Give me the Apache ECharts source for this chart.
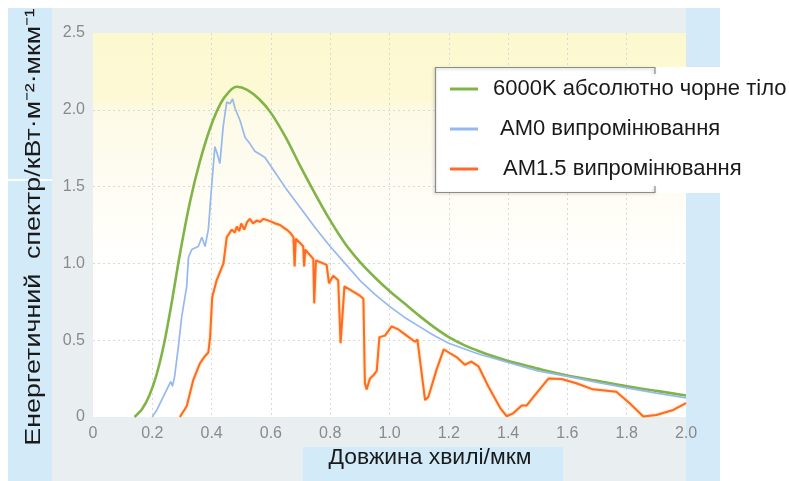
<!DOCTYPE html>
<html>
<head>
<meta charset="utf-8">
<script src="https://cdn.jsdelivr.net/npm/echarts@6/dist/echarts.min.js"></script>
<style>
  html, body { margin: 0; padding: 0; background: #ffffff; }
  #chart { width: 789px; height: 481px; }
</style>
</head>
<body>
<div id="chart"></div>
<script>
// Spectral irradiance curves, wavelength in µm, values in kW·m⁻²·µm⁻¹

// 6000K blackbody curve
const bodyX = [0.14, 0.165, 0.19, 0.215, 0.24, 0.265, 0.293, 0.327, 0.36, 0.395, 0.43, 0.46, 0.485, 0.52, 0.56, 0.60, 0.65, 0.70, 0.75, 0.80, 0.85, 0.90, 0.95, 1.00, 1.05, 1.10, 1.15, 1.20, 1.25, 1.30, 1.35, 1.40, 1.45, 1.50, 1.60, 1.70, 1.80, 1.90, 2.00];
const bodyY = [0, 0.05, 0.14, 0.28, 0.48, 0.74, 1.06, 1.40, 1.66, 1.88, 2.04, 2.12, 2.15, 2.13, 2.07, 1.98, 1.82, 1.63, 1.45, 1.28, 1.13, 1.01, 0.91, 0.82, 0.74, 0.66, 0.585, 0.52, 0.47, 0.43, 0.395, 0.365, 0.34, 0.315, 0.27, 0.235, 0.20, 0.17, 0.14];

// AM0 (extraterrestrial) spectrum
const am0X = [0.20, 0.215, 0.248, 0.262, 0.268, 0.275, 0.288, 0.299, 0.316, 0.322, 0.333, 0.355, 0.367, 0.378, 0.389, 0.400, 0.411, 0.418, 0.428, 0.439, 0.451, 0.462, 0.471, 0.479, 0.496, 0.513, 0.529, 0.546, 0.563, 0.58, 0.608, 0.65, 0.70, 0.75, 0.80, 0.85, 0.90, 0.95, 1.00, 1.05, 1.10, 1.15, 1.20, 1.30, 1.40, 1.50, 1.60, 1.70, 1.80, 1.90, 2.00];
const am0Y = [0, 0.045, 0.175, 0.23, 0.20, 0.26, 0.46, 0.65, 0.85, 1.04, 1.09, 1.11, 1.17, 1.11, 1.22, 1.50, 1.76, 1.72, 1.65, 1.89, 2.05, 2.04, 2.07, 2.01, 1.93, 1.82, 1.78, 1.73, 1.71, 1.69, 1.61, 1.49, 1.36, 1.23, 1.11, 1.00, 0.89, 0.80, 0.72, 0.65, 0.59, 0.53, 0.48, 0.41, 0.355, 0.30, 0.265, 0.225, 0.19, 0.155, 0.125];

// AM1.5 (ground level) spectrum
const am15X = [0.293, 0.316, 0.338, 0.361, 0.375, 0.389, 0.395, 0.402, 0.417, 0.44, 0.451, 0.468, 0.478, 0.485, 0.493, 0.50, 0.51, 0.52, 0.529, 0.54, 0.552, 0.563, 0.575, 0.59, 0.603, 0.615, 0.631, 0.645, 0.653, 0.665, 0.676, 0.680, 0.684, 0.700, 0.709, 0.712, 0.716, 0.743, 0.746, 0.752, 0.788, 0.796, 0.81, 0.827, 0.835, 0.848, 0.90, 0.912, 0.917, 0.923, 0.934, 0.945, 0.957, 0.966, 0.985, 1.007, 1.03, 1.058, 1.086, 1.094, 1.12, 1.131, 1.159, 1.183, 1.204, 1.226, 1.254, 1.276, 1.30, 1.333, 1.373, 1.395, 1.417, 1.446, 1.463, 1.485, 1.536, 1.58, 1.63, 1.686, 1.765, 1.81, 1.856, 1.90, 1.957, 2.00];
const am15Y = [0, 0.07, 0.24, 0.35, 0.39, 0.42, 0.52, 0.78, 0.89, 1.00, 1.17, 1.22, 1.20, 1.24, 1.21, 1.26, 1.22, 1.27, 1.29, 1.26, 1.28, 1.27, 1.29, 1.28, 1.27, 1.26, 1.25, 1.23, 1.22, 1.20, 1.17, 0.98, 1.16, 1.13, 1.11, 0.98, 1.09, 1.03, 0.74, 1.02, 0.99, 0.87, 0.92, 0.89, 0.48, 0.85, 0.79, 0.77, 0.22, 0.18, 0.25, 0.27, 0.30, 0.52, 0.53, 0.59, 0.57, 0.53, 0.49, 0.505, 0.11, 0.13, 0.31, 0.44, 0.415, 0.39, 0.34, 0.36, 0.33, 0.20, 0.06, 0.005, 0.024, 0.075, 0.075, 0.13, 0.25, 0.247, 0.22, 0.18, 0.165, 0.09, 0.003, 0.013, 0.046, 0.09];

// Series names and axis titles
const seriesNames = ['6000K абсолютно чорне тіло', 'АМ0 випромінювання', 'АМ1.5 випромінювання'];
const xTitle = 'Довжина хвилі/мкм';
const yTitle = 'Енергетичний  спектр/кВт·м⁻²·мкм⁻¹';

const pairs = (xs, ys) => xs.map((x, i) => [x, ys[i]]);
const tickFmt = v => (v === 0 ? '0' : v.toFixed(1));

const chart = echarts.init(document.getElementById('chart'), null, { renderer: 'canvas' });

chart.setOption({
  animation: false,
  backgroundColor: '#ffffff',
  textStyle: { fontFamily: '"Liberation Sans", Arial, sans-serif' },
  grid: {
    left: 93, right: 103, top: 33, bottom: 64,
    show: true,
    borderWidth: 0,
    backgroundColor: {
      type: 'linear', x: 0, y: 0, x2: 0, y2: 1,
      colorStops: [
        { offset: 0, color: '#fcf8ce' },
        { offset: 0.17, color: '#fdf9d6' },
        { offset: 0.21, color: '#fdfae6' },
        { offset: 0.36, color: '#fefcf1' },
        { offset: 0.52, color: '#fffef9' },
        { offset: 0.62, color: '#ffffff' },
        { offset: 1, color: '#ffffff' }
      ]
    }
  },
  xAxis: {
    type: 'value', min: 0, max: 2, interval: 0.2,
    axisLine: { show: false },
    axisTick: { show: false },
    axisLabel: { color: '#8a8a8a', fontSize: 16, margin: 9, formatter: tickFmt },
    splitLine: { show: true, showMinLine: false, showMaxLine: false, lineStyle: { color: '#d9d9d9', type: [2, 3], width: 1 } }
  },
  yAxis: {
    type: 'value', min: 0, max: 2.5, interval: 0.5,
    axisLine: { show: false },
    axisTick: { show: false },
    axisLabel: { color: '#8a8a8a', fontSize: 16, margin: 8, formatter: tickFmt },
    splitLine: { show: true, showMinLine: false, showMaxLine: false, lineStyle: { color: '#d9d9d9', type: [2, 3], width: 1 } }
  },
  legend: {
    orient: 'vertical',
    left: 450, top: 78,
    padding: 0,
    itemWidth: 28, itemHeight: 3,
    itemGap: 18,
    icon: 'rect',
    textStyle: { fontSize: 22, lineHeight: 22, color: '#1a1a1a' },
    data: [
      { name: seriesNames[0], textStyle: { padding: [0, 0, 0, 10] } },
      { name: seriesNames[1], textStyle: { padding: [0, 0, 0, 17] } },
      { name: seriesNames[2], textStyle: { padding: [0, 0, 0, 20] } }
    ]
  },
  graphic: [
    // outer panel
    { type: 'rect', z: -10, shape: { x: 8, y: 8, width: 712, height: 473 }, style: { fill: '#e9eef1' } },
    // left title column
    { type: 'rect', z: -9, shape: { x: 8, y: 8, width: 44, height: 473 }, style: { fill: '#d3eaf9' } },
    { type: 'rect', z: -8, shape: { x: 8, y: 179, width: 44, height: 2 }, style: { fill: '#ffffff' } },
    // right strip
    { type: 'rect', z: -9, shape: { x: 686, y: 8, width: 34, height: 473 }, style: { fill: '#d5eaf8' } },
    // x-title box
    { type: 'rect', z: -9, shape: { x: 303, y: 447, width: 260, height: 34 }, style: { fill: '#d3eaf9' } },
    // legend box
    { type: 'rect', z: 3, shape: { x: 435, y: 67, width: 354, height: 126 }, style: { fill: '#ffffff' } },
    {
      type: 'polyline', z: 3,
      shape: { points: [[655, 74], [655, 67.5], [435.5, 67.5], [435.5, 192.5], [655, 192.5], [655, 186]] },
      style: { stroke: '#8c8c8c', lineWidth: 1.2, fill: null, shadowColor: 'rgba(0,0,0,0.25)', shadowBlur: 3, shadowOffsetX: -1, shadowOffsetY: 1 }
    },
    // axis titles
    {
      type: 'text', z: 5, x: 34, y: 227, rotation: Math.PI / 2, scaleX: 1.22,
      style: { text: yTitle, fontSize: 22, fill: '#1a1a1a', align: 'center', verticalAlign: 'middle', fontFamily: '"Liberation Sans", Arial, sans-serif' }
    },
    {
      type: 'text', z: 5, x: 430, y: 458, scaleX: 1.04,
      style: { text: xTitle, fontSize: 22, fill: '#1a1a1a', align: 'center', verticalAlign: 'middle', fontFamily: '"Liberation Sans", Arial, sans-serif' }
    }
  ],
  series: [
    {
      name: seriesNames[0], type: 'line', data: pairs(bodyX, bodyY),
      showSymbol: false, smooth: 0.3,
      color: '#80b446',
      lineStyle: { width: 2.6, color: '#80b446' }
    },
    {
      name: seriesNames[1], type: 'line', data: pairs(am0X, am0Y),
      showSymbol: false, smooth: false,
      color: '#95b9ee',
      lineStyle: { width: 1.7, color: '#95b9ee' }
    },
    {
      name: seriesNames[2], type: 'line', data: pairs(am15X, am15Y),
      showSymbol: false, smooth: false,
      color: '#ff6a2c',
      lineStyle: { width: 2, color: '#ff6a2c', shadowColor: 'rgba(255,190,60,0.9)', shadowBlur: 2 }
    }
  ]
});
</script>
</body>
</html>
